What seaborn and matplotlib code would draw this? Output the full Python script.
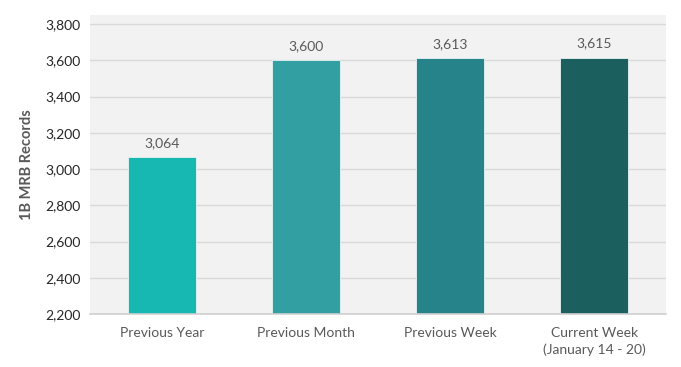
import matplotlib
matplotlib.use("Agg")
import matplotlib.pyplot as plt
import seaborn as sns
import pandas as pd
from matplotlib.ticker import FuncFormatter

# --- Data ---
categories = ["Previous Year", "Previous Month", "Previous Week", "Current Week\n(January 14 - 20)"]
records = [3064, 3600, 3613, 3615]
bar_colors = ["#16B8B1", "#32A0A3", "#27838A", "#1B5F5E"]
y_ticks = list(range(2200, 3801, 200))

df = pd.DataFrame({"period": categories, "records": records})

# --- Style ---
sns.set_style("white")
plt.rcParams["font.family"] = ["Lato", "DejaVu Sans"]
text_gray = "#595959"

fig = plt.figure(figsize=(6.81, 3.67), dpi=100)
ax = fig.add_axes([0.1322, 0.1444, 0.846, 0.8146])
ax.set_facecolor("#F2F2F2")

sns.barplot(data=df, x="period", y="records", hue="period", palette=bar_colors,
            saturation=1, legend=False, width=0.47, ax=ax,
            edgecolor="#E8F4F4", linewidth=0.6)

ax.set_ylim(2200, 3850)
ax.set_xlim(-0.5, 3.5)
ax.set_yticks(y_ticks)
ax.yaxis.set_major_formatter(FuncFormatter(lambda v, p: f"{int(v):,}"))
ax.grid(axis="y", color="#D9D9D9", linewidth=1)
ax.set_axisbelow(True)

for side in ["top", "right", "left"]:
    ax.spines[side].set_visible(False)
ax.spines["bottom"].set_color("#D0D0D0")
ax.spines["bottom"].set_linewidth(1.2)

ax.tick_params(axis="y", length=3, color="#D0D0D0", labelsize=10, labelcolor="#262626", pad=4)
ax.tick_params(axis="x", length=0, labelsize=10, labelcolor=text_gray, pad=9)
for lbl in ax.get_xticklabels():
    lbl.set_linespacing(1.45)

ax.set_xlabel("")
ax.set_ylabel("1B MRB Records", fontsize=10.5, fontweight="bold", color=text_gray, labelpad=8)

# value labels
for i, v in enumerate(records):
    ax.text(i, v + 45, f"{v:,}", ha="center", va="bottom", fontsize=10, color=text_gray)

fig.savefig("out.png", dpi=100)
